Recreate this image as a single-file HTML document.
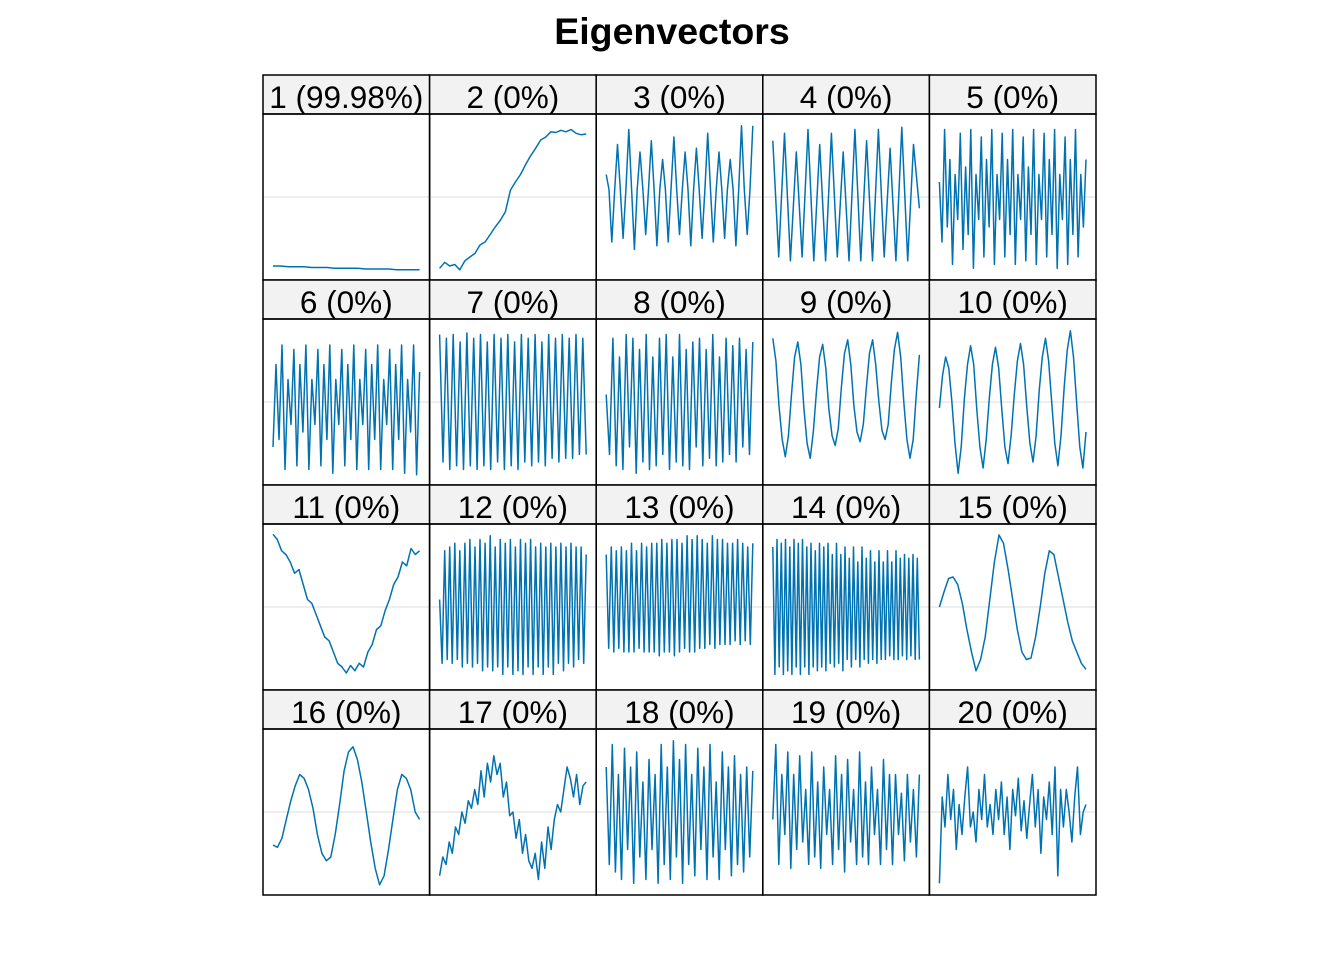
<!DOCTYPE html>
<html><head><meta charset="utf-8"><style>
html,body{margin:0;padding:0;background:#fff}
svg{display:block}
</style></head><body>
<svg id="chart" width="1344" height="960" viewBox="0 0 1344 960" xmlns="http://www.w3.org/2000/svg">
<text x="672" y="44" text-anchor="middle" font-family="Liberation Sans, sans-serif" font-size="37.5" font-weight="bold">Eigenvectors</text>
<g id="panels"></g>
</svg>
<script>
const panelLabels = ["1 (99.98%)","2 (0%)","3 (0%)","4 (0%)","5 (0%)","6 (0%)","7 (0%)","8 (0%)","9 (0%)","10 (0%)","11 (0%)","12 (0%)","13 (0%)","14 (0%)","15 (0%)","16 (0%)","17 (0%)","18 (0%)","19 (0%)","20 (0%)"];
const ev1 = [-0.92,-0.92,-0.93,-0.93,-0.93,-0.94,-0.94,-0.94,-0.95,-0.95,-0.95,-0.95,-0.96,-0.96,-0.96,-0.96,-0.97,-0.97,-0.97,-0.97];
const ev2 = [-0.95,-0.87,-0.92,-0.9,-0.97,-0.85,-0.8,-0.75,-0.64,-0.6,-0.5,-0.4,-0.31,-0.2,0.09,0.2,0.3,0.43,0.55,0.65,0.76,0.8,0.87,0.86,0.89,0.87,0.9,0.85,0.83,0.84];
const ev3 = [0.3,0.1,-0.6,0.1,0.7,0.1,-0.55,0.1,0.9,0.1,-0.7,0.1,0.6,0.1,-0.5,0.1,0.75,0.1,-0.65,0.1,0.5,0.1,-0.6,0.1,0.8,0.1,-0.5,0.1,0.6,0.1,-0.65,0.1,0.65,0.1,-0.55,0.1,0.85,0.1,-0.6,0.1,0.6,0.1,-0.55,0.1,0.5,0.1,-0.65,0.1,0.95,0.1,-0.5,0.1,0.95];
const ev4 = [0.75,-0.8,0.85,-0.85,0.6,-0.8,0.9,-0.85,0.7,-0.85,0.85,-0.8,0.6,-0.85,0.9,-0.85,0.75,-0.85,0.9,-0.8,0.65,-0.85,0.93,-0.85,0.7,-0.15];
const ev5 = [0.2,-0.6,0.9,-0.4,0.5,-0.9,0.3,-0.3,0.85,-0.7,0.4,-0.5,0.9,-0.95,0.3,-0.3,0.8,-0.8,0.5,-0.4,0.9,-0.9,0.3,-0.3,0.85,-0.8,0.5,-0.5,0.9,-0.9,0.3,-0.3,0.8,-0.85,0.4,-0.5,0.9,-0.9,0.3,-0.3,0.85,-0.8,0.5,-0.5,0.9,-0.95,0.3,-0.3,0.8,-0.9,0.5,-0.5,0.9,-0.8,0.3,-0.4,0.5];
const ev6 = [-0.6,0.5,-0.5,0.76,-0.9,0.3,-0.3,0.7,-0.85,0.5,-0.4,0.76,-0.9,0.3,-0.3,0.7,-0.85,0.5,-0.5,0.76,-0.95,0.3,-0.3,0.7,-0.85,0.5,-0.5,0.76,-0.9,0.3,-0.3,0.7,-0.9,0.5,-0.5,0.76,-0.9,0.3,-0.3,0.7,-0.9,0.5,-0.5,0.76,-0.95,0.3,-0.4,0.76,-0.97,0.4];
const ev7 = [0.9,-0.8,0.85,-0.9,0.9,-0.85,0.8,-0.9,0.92,-0.85,0.85,-0.9,0.9,-0.85,0.8,-0.9,0.9,-0.8,0.85,-0.9,0.9,-0.85,0.8,-0.9,0.9,-0.8,0.85,-0.85,0.9,-0.8,0.8,-0.85,0.9,-0.75,0.85,-0.8,0.9,-0.75,0.85,-0.75,0.9,-0.7,0.85,-0.7];
const ev8 = [0.1,-0.7,0.85,-0.85,0.6,-0.9,0.9,-0.6,0.85,-0.95,0.7,-0.8,0.9,-0.9,0.6,-0.85,0.85,-0.7,0.9,-0.9,0.6,-0.8,0.9,-0.85,0.7,-0.9,0.8,-0.6,0.85,-0.85,0.7,-0.75,0.9,-0.85,0.6,-0.8,0.85,-0.7,0.75,-0.8,0.85,-0.6,0.7,-0.7,0.8];
const ev9 = [0.85,0.55,-0.05,-0.5,-0.73,-0.45,0.1,0.6,0.8,0.5,-0.1,-0.55,-0.75,-0.4,0.15,0.6,0.77,0.45,-0.1,-0.45,-0.58,-0.35,0.2,0.65,0.83,0.5,-0.05,-0.4,-0.53,-0.3,0.2,0.65,0.83,0.5,0,-0.38,-0.5,-0.3,0.25,0.7,0.93,0.6,0,-0.5,-0.75,-0.5,0.1,0.63];
const ev10 = [-0.08,0.35,0.6,0.45,0,-0.55,-0.95,-0.6,0.05,0.5,0.75,0.5,-0.1,-0.6,-0.88,-0.5,0.05,0.5,0.73,0.45,-0.1,-0.6,-0.82,-0.45,0.1,0.55,0.78,0.5,-0.05,-0.55,-0.8,-0.45,0.15,0.6,0.85,0.55,0,-0.55,-0.85,-0.45,0.2,0.7,0.95,0.6,0,-0.6,-0.88,-0.4];
const ev11 = [0.97,0.9,0.75,0.7,0.6,0.45,0.5,0.3,0.1,0.05,-0.1,-0.25,-0.4,-0.45,-0.6,-0.75,-0.8,-0.88,-0.78,-0.85,-0.75,-0.8,-0.6,-0.5,-0.3,-0.25,-0.05,0.1,0.3,0.4,0.6,0.55,0.78,0.7,0.75];
const ev12 = [0.1,-0.75,0.75,-0.7,0.8,-0.75,0.85,-0.7,0.75,-0.8,0.85,-0.75,0.9,-0.8,0.8,-0.75,0.9,-0.85,0.85,-0.8,0.95,-0.85,0.8,-0.8,0.9,-0.9,0.85,-0.8,0.9,-0.9,0.8,-0.85,0.9,-0.9,0.85,-0.8,0.9,-0.9,0.8,-0.8,0.85,-0.9,0.8,-0.8,0.85,-0.9,0.8,-0.75,0.85,-0.85,0.8,-0.75,0.85,-0.8,0.8,-0.7,0.8,-0.75,0.7];
const ev13 = [0.7,-0.55,0.8,-0.6,0.75,-0.55,0.8,-0.6,0.75,-0.6,0.85,-0.6,0.75,-0.55,0.85,-0.6,0.8,-0.6,0.85,-0.6,0.85,-0.65,0.9,-0.6,0.85,-0.6,0.9,-0.65,0.9,-0.6,0.85,-0.55,0.95,-0.6,0.9,-0.6,0.95,-0.55,0.9,-0.55,0.85,-0.5,0.95,-0.55,0.9,-0.5,0.9,-0.5,0.85,-0.5,0.85,-0.45,0.9,-0.5,0.85,-0.45,0.8,-0.5,0.85];
const ev14 = [0.8,-0.9,0.9,-0.8,0.85,-0.9,0.9,-0.85,0.8,-0.9,0.9,-0.8,0.85,-0.9,0.9,-0.8,0.8,-0.9,0.85,-0.8,0.75,-0.85,0.85,-0.8,0.8,-0.85,0.85,-0.75,0.7,-0.8,0.85,-0.75,0.7,-0.85,0.8,-0.7,0.65,-0.8,0.8,-0.7,0.6,-0.8,0.8,-0.7,0.65,-0.75,0.75,-0.7,0.6,-0.75,0.75,-0.7,0.6,-0.7,0.75,-0.65,0.6,-0.7,0.75,-0.7,0.65,-0.65,0.7,-0.7,0.65,-0.65,0.7,-0.7,0.65,-0.7];
const ev15 = [0.0,0.2,0.38,0.4,0.3,0.05,-0.3,-0.6,-0.85,-0.7,-0.4,0.1,0.6,0.96,0.85,0.5,0.1,-0.3,-0.6,-0.7,-0.68,-0.4,0.0,0.45,0.75,0.7,0.4,0.1,-0.2,-0.45,-0.6,-0.75,-0.83];
const ev16 = [-0.44,-0.47,-0.35,-0.1,0.15,0.35,0.5,0.45,0.3,0.05,-0.3,-0.55,-0.65,-0.6,-0.3,0.1,0.55,0.8,0.87,0.7,0.4,0.0,-0.4,-0.75,-0.97,-0.85,-0.5,-0.1,0.3,0.5,0.45,0.3,0.0,-0.1];
const ev17 = [-0.85,-0.6,-0.7,-0.4,-0.55,-0.2,-0.3,0.0,-0.15,0.15,0.05,0.3,0.1,0.55,0.2,0.65,0.4,0.75,0.5,0.65,0.2,0.4,-0.05,0.0,-0.35,-0.1,-0.55,-0.3,-0.65,-0.75,-0.55,-0.9,-0.4,-0.75,-0.2,-0.5,-0.1,0.1,0.0,0.3,0.6,0.45,0.2,0.5,0.1,0.35,0.4];
const ev18 = [0.6,-0.7,0.9,-0.8,0.5,-0.9,0.85,-0.5,0.6,-0.95,0.8,-0.6,0.4,-0.9,0.7,-0.5,0.5,-0.95,0.9,-0.7,0.6,-0.9,0.95,-0.6,0.7,-0.95,0.9,-0.7,0.5,-0.85,0.85,-0.5,0.6,-0.9,0.9,-0.6,0.4,-0.9,0.8,-0.5,0.6,-0.85,0.75,-0.7,0.5,-0.8,0.6,-0.6,0.55];
const ev19 = [-0.1,0.9,-0.7,0.5,-0.3,0.8,-0.75,0.5,-0.5,0.75,-0.4,0.3,-0.7,0.8,-0.6,0.4,-0.75,0.6,-0.3,0.3,-0.7,0.75,-0.5,0.5,-0.8,0.7,-0.4,0.3,-0.7,0.8,-0.6,0.4,-0.7,0.6,-0.3,0.3,-0.7,0.7,-0.5,0.5,-0.7,0.5,-0.3,0.25,-0.65,0.5,-0.4,0.3,-0.6,0.5];
const ev20 = [-0.95,0.2,-0.2,0.5,-0.1,0.3,-0.5,0.1,-0.3,0.2,0.6,-0.2,0.0,-0.4,0.3,-0.1,0.5,-0.2,0.1,-0.3,0.3,-0.1,0.4,-0.3,0.2,-0.5,0.3,-0.05,0.45,-0.25,0.15,-0.35,0.1,0.5,-0.2,0.3,-0.55,0.2,-0.1,0.4,-0.3,0.6,-0.85,0.3,-0.2,0.3,0.0,-0.4,0.2,0.6,-0.3,0.0,0.1];
const series = [ev1,ev2,ev3,ev4,ev5,ev6,ev7,ev8,ev9,ev10,ev11,ev12,ev13,ev14,ev15,ev16,ev17,ev18,ev19,ev20];

const NS = "http://www.w3.org/2000/svg";
const g = document.getElementById('panels');
const colW = 166.6, rowH = 205, left0 = 263, top0 = 75, stripH = 39, plotH = 166;
function xScale(col, i, n){ const l = left0 + col*colW + 10; return l + (colW - 20) * i / (n - 1); }
function yScale(row, v){ const mid = top0 + row*rowH + stripH + plotH/2; return mid - v * 75; }
function mk(tag, attrs){ const e = document.createElementNS(NS, tag); for (const k in attrs) e.setAttribute(k, attrs[k]); return e; }

series.forEach((data, idx) => {
  const col = idx % 5, row = Math.floor(idx / 5);
  const x0 = left0 + col*colW, y0 = top0 + row*rowH;
  const pg = mk('g', {});
  
  
  const strip = mk('rect', {x: x0, y: y0, width: colW, height: stripH, fill: '#f2f2f2', stroke: '#000', 'stroke-width': 1.5});
  
  
  pg.appendChild(strip);
  const lab = mk('text', {x: x0 + colW/2, y: y0 + 33, 'text-anchor': 'middle', 'font-family': 'Liberation Sans, sans-serif', 'font-size': 31.5, fill: '#000'});
  lab.textContent = panelLabels[idx];
  
  
  pg.appendChild(lab);
  const grid = mk('line', {x1: x0, x2: x0 + colW, y1: yScale(row, 0), y2: yScale(row, 0), stroke: '#e3e3e3', 'stroke-width': 1.2});
  
  
  pg.appendChild(grid);
  const pts = data.map((v, i) => xScale(col, i, data.length).toFixed(1) + ',' + yScale(row, v).toFixed(1)).join(' ');
  const line = mk('polyline', {points: pts, fill: 'none', stroke: '#0072B2', 'stroke-width': 1.5, 'stroke-linejoin': 'round'});
  
  
  pg.appendChild(line);
  const border = mk('rect', {x: x0, y: y0 + stripH, width: colW, height: plotH, fill: 'none', stroke: '#000', 'stroke-width': 1.5});
  
  
  pg.appendChild(border);
  g.appendChild(pg);
});
</script>
</body></html>
